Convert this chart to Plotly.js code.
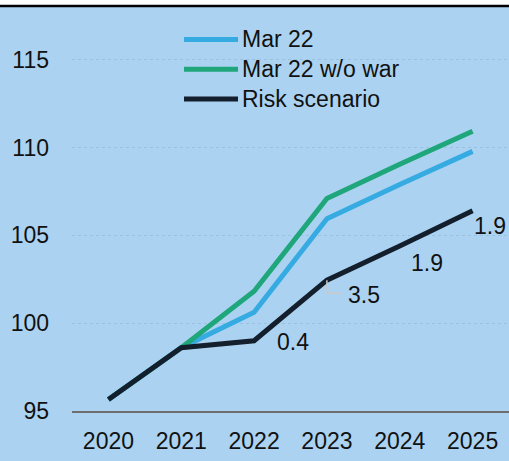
<!DOCTYPE html>
<html>
<head>
<meta charset="utf-8">
<script src="https://cdn.plot.ly/plotly-3.0.1.min.js"></script>
<style>
  html, body { margin: 0; padding: 0; background: #ffffff; }
  #chart { width: 509px; height: 461px; }
</style>
</head>
<body>
<div id="chart"></div>
<script>
// Index levels, 2020 = base period
const years = [2020, 2021, 2022, 2023, 2024, 2025];
const mar22 = [95.65, 98.6, 100.62, 105.95, 107.9, 109.78];
const mar22NoWar = [95.65, 98.6, 101.82, 107.1, 109.05, 110.93];
const riskScenario = [95.65, 98.6, 99.0, 102.45, 104.4, 106.4];

const seriesNames = ['Mar 22', 'Mar 22 w/o war', 'Risk scenario'];
const seriesColors = ['#35abe2', '#1fa67a', '#141f2d'];

// Annual growth labels on the risk path (year they sit next to)
const growthYears = [2022, 2023, 2024, 2025];
const growthLabels = ['0.4', '3.5', '1.9', '1.9'];
const growthShiftX = [39, 37, 27, 17];
const growthShiftY = [-1, -15, -17, -15];

const yTicks = [95, 100, 105, 110, 115];

const FONT = '"Liberation Sans", Arial, sans-serif';
const FS = 23;
const BG = '#abd3f1';
const INK = '#111111';

const seriesValues = [mar22, mar22NoWar, riskScenario];
const traces = seriesValues.map((vals, k) => ({
  type: 'scatter', mode: 'lines', name: seriesNames[k], x: years, y: vals,
  line: { color: seriesColors[k], width: 5 }, hoverinfo: 'skip'
}));

const annotations = growthYears.map((yr, i) => ({
  x: yr, y: riskScenario[years.indexOf(yr)], xref: 'x', yref: 'y',
  text: growthLabels[i], showarrow: false,
  xshift: growthShiftX[i], yshift: growthShiftY[i],
  font: { family: FONT, size: FS, color: INK }
}));

// legend block: key line + label per series
const legendRowsY = [0.9196, 0.8458, 0.7723];
const shapes = [];
seriesNames.forEach((nm, k) => {
  shapes.push({
    type: 'line', xref: 'paper', yref: 'paper',
    xsizemode: 'pixel', xanchor: 0.2563, x0: 0, x1: 54,
    y0: legendRowsY[k], y1: legendRowsY[k],
    line: { color: seriesColors[k], width: 5 }
  });
  annotations.push({
    xref: 'paper', yref: 'paper', x: 0.3844, y: legendRowsY[k],
    xanchor: 'left', yanchor: 'middle', showarrow: false, text: nm,
    font: { family: FONT, size: FS, color: INK }
  });
});

// small leader from the 2023 risk point to its label
const i23 = years.indexOf(2023);
shapes.push({
  type: 'path', xref: 'x', yref: 'y',
  xsizemode: 'pixel', ysizemode: 'pixel',
  xanchor: years[i23], yanchor: riskScenario[i23],
  path: 'M0,0 L0,-13 L15,-13',
  line: { color: '#c9c9c9', width: 1.5 }
});

// white strip and rule across the top
shapes.push({
  type: 'rect', xref: 'paper', yref: 'paper', ysizemode: 'pixel', yanchor: 1,
  x0: -0.2, x1: 1.1, y0: 2, y1: 20, fillcolor: '#ffffff', line: { width: 0 }
});
shapes.push({
  type: 'line', xref: 'paper', yref: 'paper', ysizemode: 'pixel', yanchor: 1,
  x0: -0.2, x1: 1.1, y0: 1, y1: 1, line: { color: '#000000', width: 2.5 }
});

const layout = {
  width: 509, height: 461,
  margin: { l: 72, r: 0, t: 7, b: 50 },
  paper_bgcolor: BG, plot_bgcolor: BG,
  font: { family: FONT, size: FS, color: INK },
  showlegend: false,
  xaxis: {
    range: [2019.5, 2025.5], tickvals: years, ticktext: years.map(String),
    showgrid: false, zeroline: false,
    showline: true, linecolor: '#6e6e6e', linewidth: 2,
    ticks: '', ticklabelstandoff: 8, fixedrange: true
  },
  yaxis: {
    range: [95, 118], tickvals: yTicks, ticktext: yTicks.map(String),
    showgrid: true, gridcolor: '#99c2de', griddash: 'dot', gridwidth: 1,
    zeroline: false, showline: false, ticks: '', ticklabelstandoff: 22,
    fixedrange: true
  },
  annotations: annotations,
  shapes: shapes
};

Plotly.newPlot('chart', traces, layout, { displayModeBar: false, staticPlot: true });
</script>
</body>
</html>
